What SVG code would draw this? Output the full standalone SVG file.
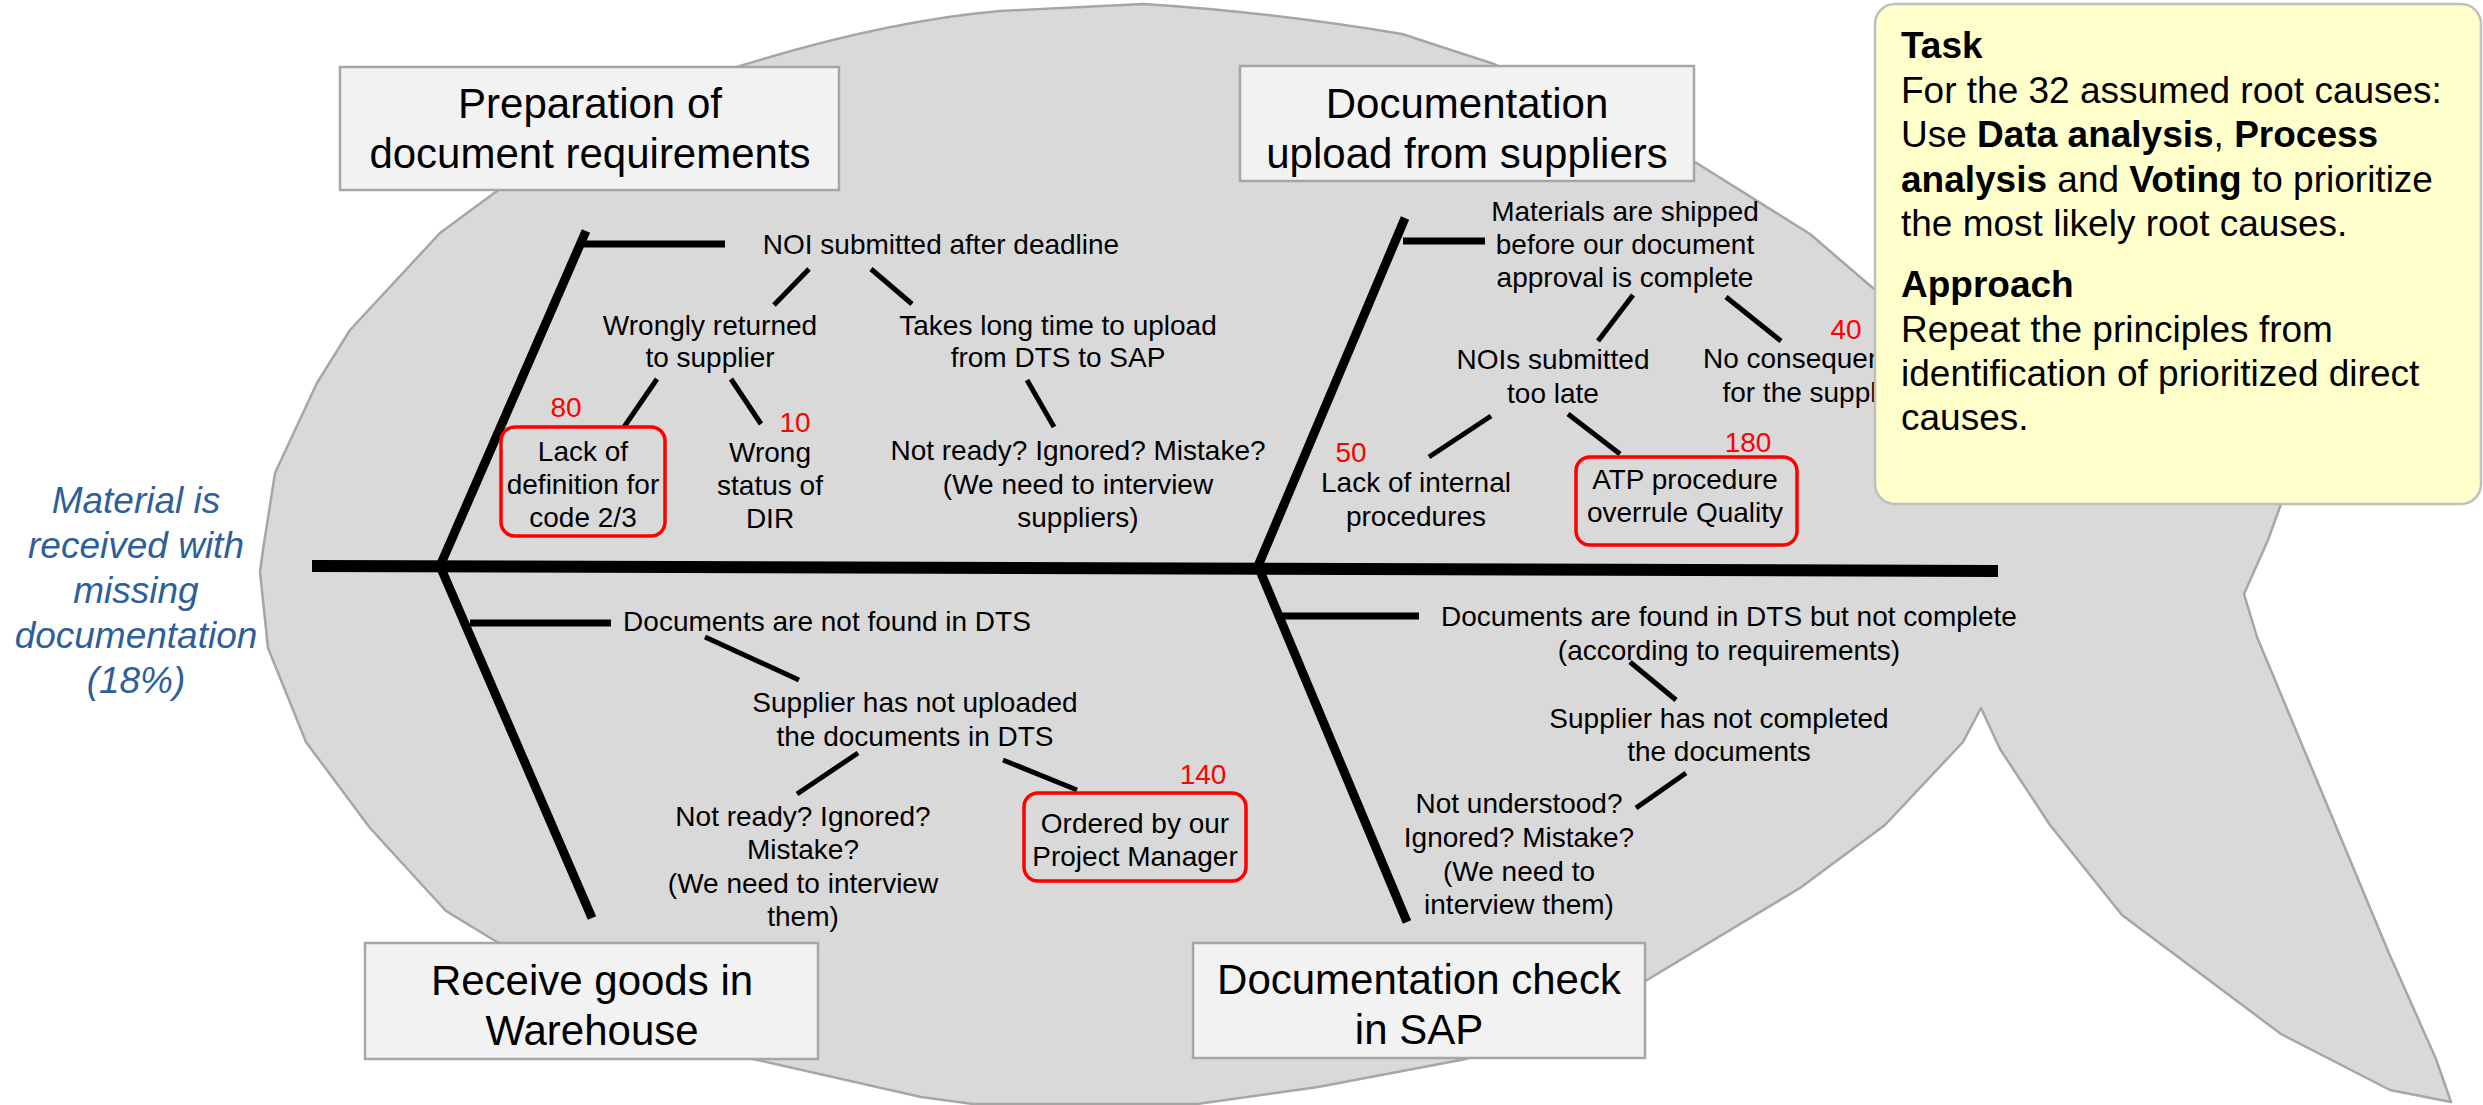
<svg xmlns="http://www.w3.org/2000/svg" width="2483" height="1105" viewBox="0 0 2483 1105">
  <style>
    text { font-family: "Liberation Sans", Arial, sans-serif; fill: #000; }
    .sm { font-size: 28px; text-anchor: middle; }
    .num { font-size: 28px; text-anchor: middle; fill: #ff0000; }
    .title { font-size: 42px; text-anchor: middle; }
    .tbox { fill: #f2f2f2; stroke: #a6a6a6; stroke-width: 2.5; }
    .rbox { fill: none; stroke: #ff0000; stroke-width: 3.5; }
    .bone { stroke: #000; stroke-width: 9; fill: none; }
    .spine { stroke: #000; stroke-width: 12; fill: none; }
    .branch { stroke: #000; stroke-width: 7; fill: none; }
    .link { stroke: #000; stroke-width: 5; fill: none; }
    .effect { font-size: 37px; font-style: italic; fill: #2f5f98; text-anchor: middle; }
    .task { font-size: 37px; }
    .b { font-weight: bold; }
  </style>

  <!-- fish body outline -->
  <path id="fish" d="M 1143 4 C 1240 10 1330 22 1402 34 L 1494 64 L 1695 162 L 1810 234 L 1874 289 L 1960 380 L 2281 504 L 2268 540 L 2244 594 L 2257 637 L 2388 951 L 2436 1059 L 2451 1102 L 2390 1090 L 2281 1034 L 2122 915 L 2050 825 L 2000 749 L 1981 708 L 1963 742 L 1885 825 L 1800 888 L 1647 980 L 1466 1059 L 1318 1087 L 1197 1104 L 973 1104 L 921 1097 L 753 1059 L 497 942 L 446 911 L 370 828 L 306 742 L 268 648 L 260 572 L 263 550 L 275 473 L 317 383 L 350 330 L 440 233 L 497 191 C 570 140 650 95 740 66 C 830 38 920 18 1000 11 Z" fill="#d9d9d9" stroke="#a6a6a6" stroke-width="2.5" stroke-linejoin="round"/>

  <!-- connectors: spine, bones, branches and cause links -->
  <g id="connectors">
    <line class="spine" x1="312" y1="566" x2="1998" y2="571"/>
    <line class="bone" x1="586" y1="231" x2="440" y2="566"/>
    <line class="bone" x1="440" y1="566" x2="592" y2="918"/>
    <line class="bone" x1="1405" y1="218" x2="1258" y2="566"/>
    <line class="bone" x1="1258" y1="566" x2="1407" y2="922"/>
    <line class="branch" x1="583" y1="244" x2="725" y2="244"/>
    <line class="branch" x1="470" y1="623" x2="611" y2="623"/>
    <line class="branch" x1="1403" y1="241" x2="1485" y2="241"/>
    <line class="branch" x1="1280" y1="616" x2="1419" y2="616"/>
    <line class="link" x1="809" y1="269" x2="774" y2="305"/>
    <line class="link" x1="871" y1="269" x2="912" y2="304"/>
    <line class="link" x1="657" y1="379" x2="624" y2="427"/>
    <line class="link" x1="731" y1="379" x2="761" y2="424"/>
    <line class="link" x1="1027" y1="380" x2="1054" y2="427"/>
    <line class="link" x1="1633" y1="295" x2="1598" y2="341"/>
    <line class="link" x1="1726" y1="297" x2="1781" y2="341"/>
    <line class="link" x1="1491" y1="416" x2="1429" y2="457"/>
    <line class="link" x1="1568" y1="414" x2="1620" y2="454"/>
    <line class="link" x1="705" y1="637" x2="799" y2="680"/>
    <line class="link" x1="858" y1="753" x2="797" y2="794"/>
    <line class="link" x1="1003" y1="760" x2="1077" y2="790"/>
    <line class="link" x1="1630" y1="662" x2="1676" y2="700"/>
    <line class="link" x1="1686" y1="773" x2="1636" y2="808"/>
  </g>

  <!-- effect -->
  <g id="effect">
    <text class="effect" x="136" y="513">Material is</text>
    <text class="effect" x="136" y="558">received with</text>
    <text class="effect" x="136" y="603">missing</text>
    <text class="effect" x="136" y="648">documentation</text>
    <text class="effect" x="136" y="693">(18%)</text>
  </g>

  <!-- category boxes -->
  <g id="cat-preparation">
    <rect class="tbox" x="340" y="67" width="499" height="123"/>
    <text class="title" x="590" y="118">Preparation of</text>
    <text class="title" x="590" y="168">document requirements</text>
  </g>
  <g id="cat-upload">
    <rect class="tbox" x="1240" y="66" width="454" height="115"/>
    <text class="title" x="1467" y="118">Documentation</text>
    <text class="title" x="1467" y="168">upload from suppliers</text>
  </g>
  <g id="cat-receive">
    <rect class="tbox" x="365" y="943" width="453" height="116"/>
    <text class="title" x="592" y="995">Receive goods in</text>
    <text class="title" x="592" y="1045">Warehouse</text>
  </g>
  <g id="cat-check">
    <rect class="tbox" x="1193" y="943" width="452" height="115"/>
    <text class="title" x="1419" y="994">Documentation check</text>
    <text class="title" x="1419" y="1044">in SAP</text>
  </g>

  <!-- causes: preparation of document requirements -->
  <g id="noi-deadline"><text class="sm" x="941" y="254">NOI submitted after deadline</text></g>
  <g id="wrongly-returned">
    <text class="sm" x="710" y="335">Wrongly returned</text>
    <text class="sm" x="710" y="367">to supplier</text>
  </g>
  <g id="lack-definition">
    <text class="num" x="566" y="417">80</text>
    <rect class="rbox" x="501" y="427" width="164" height="109" rx="14"/>
    <text class="sm" x="583" y="461">Lack of</text>
    <text class="sm" x="583" y="494">definition for</text>
    <text class="sm" x="583" y="527">code 2/3</text>
  </g>
  <g id="wrong-status">
    <text class="num" x="795" y="432">10</text>
    <text class="sm" x="770" y="462">Wrong</text>
    <text class="sm" x="770" y="495">status of</text>
    <text class="sm" x="770" y="528">DIR</text>
  </g>
  <g id="takes-long">
    <text class="sm" x="1058" y="335">Takes long time to upload</text>
    <text class="sm" x="1058" y="367">from DTS to SAP</text>
  </g>
  <g id="not-ready-suppliers">
    <text class="sm" x="1078" y="460">Not ready? Ignored? Mistake?</text>
    <text class="sm" x="1078" y="494">(We need to interview</text>
    <text class="sm" x="1078" y="527">suppliers)</text>
  </g>

  <!-- causes: documentation upload from suppliers -->
  <g id="shipped-before">
    <text class="sm" x="1625" y="221">Materials are shipped</text>
    <text class="sm" x="1625" y="254">before our document</text>
    <text class="sm" x="1625" y="287">approval is complete</text>
  </g>
  <g id="nois-late">
    <text class="sm" x="1553" y="369">NOIs submitted</text>
    <text class="sm" x="1553" y="403">too late</text>
  </g>
  <g id="no-consequences">
    <text class="num" x="1846" y="339">40</text>
    <text class="sm" x="1815" y="368">No consequences</text>
    <text class="sm" x="1815" y="402">for the supplier</text>
  </g>
  <g id="lack-internal">
    <text class="num" x="1351" y="462">50</text>
    <text class="sm" x="1416" y="492">Lack of internal</text>
    <text class="sm" x="1416" y="526">procedures</text>
  </g>
  <g id="atp-procedure">
    <text class="num" x="1748" y="452">180</text>
    <rect class="rbox" x="1576" y="457" width="221" height="88" rx="14"/>
    <text class="sm" x="1685" y="489">ATP procedure</text>
    <text class="sm" x="1685" y="522">overrule Quality</text>
  </g>

  <!-- causes: receive goods in warehouse -->
  <g id="not-found"><text class="sm" x="827" y="631">Documents are not found in DTS</text></g>
  <g id="not-uploaded">
    <text class="sm" x="915" y="712">Supplier has not uploaded</text>
    <text class="sm" x="915" y="746">the documents in DTS</text>
  </g>
  <g id="not-ready-them">
    <text class="sm" x="803" y="826">Not ready? Ignored?</text>
    <text class="sm" x="803" y="859">Mistake?</text>
    <text class="sm" x="803" y="893">(We need to interview</text>
    <text class="sm" x="803" y="926">them)</text>
  </g>
  <g id="ordered-pm">
    <text class="num" x="1203" y="784">140</text>
    <rect class="rbox" x="1024" y="793" width="222" height="88" rx="14"/>
    <text class="sm" x="1135" y="833">Ordered by our</text>
    <text class="sm" x="1135" y="866">Project Manager</text>
  </g>

  <!-- causes: documentation check in SAP -->
  <g id="not-complete">
    <text class="sm" x="1729" y="626">Documents are found in DTS but not complete</text>
    <text class="sm" x="1729" y="660">(according to requirements)</text>
  </g>
  <g id="not-completed">
    <text class="sm" x="1719" y="728">Supplier has not completed</text>
    <text class="sm" x="1719" y="761">the documents</text>
  </g>
  <g id="not-understood">
    <text class="sm" x="1519" y="813">Not understood?</text>
    <text class="sm" x="1519" y="847">Ignored? Mistake?</text>
    <text class="sm" x="1519" y="881">(We need to</text>
    <text class="sm" x="1519" y="914">interview them)</text>
  </g>

  <!-- task note -->
  <g id="task-note">
    <rect x="1875" y="4" width="606" height="500" rx="20" fill="#ffffcc" stroke="#bfbfbf" stroke-width="2.5"/>
    <text class="task" x="1901">
      <tspan x="1901" y="58" class="b">Task</tspan>
      <tspan x="1901" y="103">For the 32 assumed root causes:</tspan>
      <tspan x="1901" y="147">Use <tspan class="b">Data analysis</tspan>, <tspan class="b">Process</tspan></tspan>
      <tspan x="1901" y="192"><tspan class="b">analysis</tspan> and <tspan class="b">Voting</tspan> to prioritize</tspan>
      <tspan x="1901" y="236">the most likely root causes.</tspan>
      <tspan x="1901" y="297" class="b">Approach</tspan>
      <tspan x="1901" y="342">Repeat the principles from</tspan>
      <tspan x="1901" y="386">identification of prioritized direct</tspan>
      <tspan x="1901" y="430">causes.</tspan>
    </text>
  </g>
</svg>
